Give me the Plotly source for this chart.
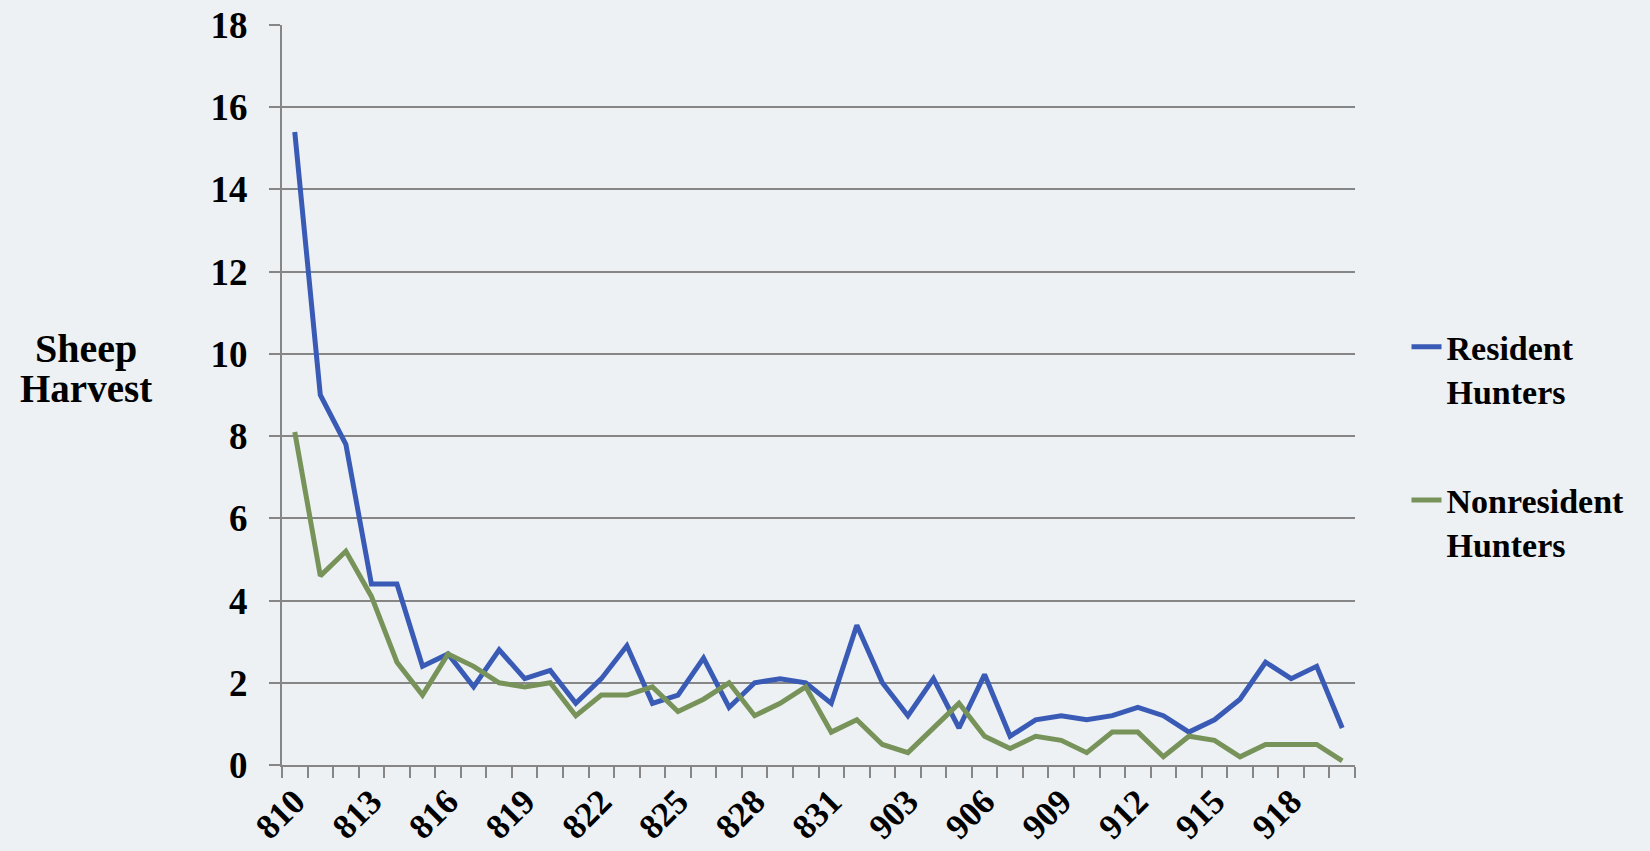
import plotly.graph_objects as go

# category labels (month/day codes)
days = [str(d) for d in range(810, 832)] + [str(d) for d in range(901, 921)]

resident = [15.4, 9.0, 7.8, 4.4, 4.4, 2.4, 2.7, 1.9, 2.8, 2.1, 2.3, 1.5, 2.1, 2.9,
            1.5, 1.7, 2.6, 1.4, 2.0, 2.1, 2.0, 1.5, 3.4, 2.0, 1.2, 2.1, 0.9, 2.2,
            0.7, 1.1, 1.2, 1.1, 1.2, 1.4, 1.2, 0.8, 1.1, 1.6, 2.5, 2.1, 2.4, 0.9]
nonresident = [8.1, 4.6, 5.2, 4.1, 2.5, 1.7, 2.7, 2.4, 2.0, 1.9, 2.0, 1.2, 1.7, 1.7,
               1.9, 1.3, 1.6, 2.0, 1.2, 1.5, 1.9, 0.8, 1.1, 0.5, 0.3, 0.9, 1.5, 0.7,
               0.4, 0.7, 0.6, 0.3, 0.8, 0.8, 0.2, 0.7, 0.6, 0.2, 0.5, 0.5, 0.5, 0.1]

tick_text = [d if i % 3 == 0 else "" for i, d in enumerate(days)]

FONT = "Palatino Linotype, Book Antiqua, Liberation Serif, serif"
BG = "#EDF1F4"
GRID = "#868686"


def bold(size):
    return dict(family=FONT, size=size, color="black", weight="bold")


fig = go.Figure()
fig.add_trace(go.Scatter(x=days, y=resident, mode="lines", name="Resident<br>Hunters",
                         legendgroup="r",
                         line=dict(color="#3A5BB5", width=5)))
fig.add_trace(go.Scatter(x=days, y=nonresident, mode="lines", name="Nonresident<br>Hunters",
                         legendgroup="n",
                         line=dict(color="#77935A", width=5)))

fig.update_layout(
    width=1650, height=851,
    margin=dict(l=282, r=295, t=25, b=86, autoexpand=False),
    paper_bgcolor=BG, plot_bgcolor=BG,
    font=bold(30),
    legend=dict(x=1.048, y=0.604, xanchor="left", yanchor="top",
                valign="top", tracegroupgap=62,
                bgcolor="rgba(0,0,0,0)", font=bold(34)),
    annotations=[
        dict(text="Sheep", xref="paper", yref="paper", x=-0.183, y=0.563,
             xanchor="center", yanchor="middle", showarrow=False, font=bold(40)),
        dict(text="Harvest", xref="paper", yref="paper", x=-0.183, y=0.509,
             xanchor="center", yanchor="middle", showarrow=False, font=bold(39)),
    ],
)

fig.update_xaxes(
    type="category", range=[-0.5, 41.5], automargin=False,
    tickmode="array", tickvals=days, ticktext=tick_text,
    tickson="boundaries", ticks="outside", ticklen=11, tickwidth=2, tickcolor=GRID,
    tickangle=-45, showgrid=False, showline=True, linecolor=GRID, linewidth=2,
    tickfont=bold(35),
)
fig.update_yaxes(
    range=[0, 18], dtick=2, automargin=False,
    showgrid=True, gridcolor=GRID, gridwidth=2,
    ticks="outside", ticklen=11, tickwidth=2, tickcolor=GRID,
    showline=True, linecolor=GRID, linewidth=2, zeroline=False,
    ticklabelstandoff=14, tickfont=bold(37),
)

# drop the default page margin so the figure fills the window
fig.write_html("out.html", config={"displayModeBar": False},
               post_script="document.body.style.margin='0';"
                           "document.body.style.background='%s';" % BG)
